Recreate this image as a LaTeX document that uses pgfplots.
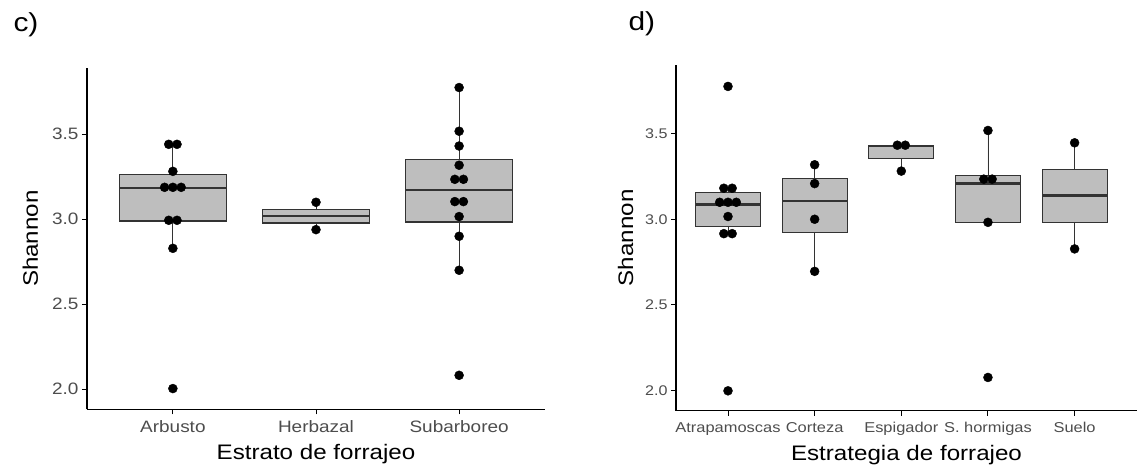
\documentclass[border=0pt]{standalone}
\usepackage{fontspec}
\setmainfont{Liberation Sans}[FakeStretch=1.15]
\usepackage{pgfplots}
\pgfplotsset{compat=1.18}
\usepgfplotslibrary{statistics}

\definecolor{ticktxt}{HTML}{4D4D4D}
\definecolor{boxedge}{HTML}{333333}
\definecolor{boxfill}{HTML}{BEBEBE}

\pgfplotsset{
  panel/.style={
    scale only axis,
    axis lines=left,
    axis line style={-, black, line width=1.2pt},
    tick align=outside,
    major tick length=5pt,
    tick style={black, line width=1pt},
    minor tick num=0,
    clip=false,
    ytick={2,2.5,3,3.5},
    yticklabels={2.0,2.5,3.0,3.5},
    yticklabel style={text=ticktxt},
    xticklabel style={text=ticktxt, yshift=-3pt},
    xtick pos=bottom, ytick pos=left,
    every axis y label/.style={at={(axis description cs:0,0.5)}, rotate=90, anchor=base},
    every axis x label/.style={at={(axis description cs:0.5,0)}, anchor=base, yshift=-50pt},
    label style={font=\fontsize{21}{23}\selectfont},
    boxplot/every median/.style={line width=2.3pt, draw=boxedge},
    boxplot/every whisker/.style={line width=0.8pt, draw=boxedge},
  },
  bx/.style={boxplot prepared={#1, draw direction=y, box extend=0.75, whisker extend=0},
    draw=boxedge, fill=boxfill, line width=1.1pt},
  dots/.style={only marks, mark=*, mark size=4.5pt, black},
}

\begin{document}
\begin{tikzpicture}
\useasboundingbox (0pt,0pt) rectangle (1138pt,468pt);

\node[anchor=base west] at (10pt,436pt) {\fontsize{26}{28}\selectfont c)};
\node[anchor=base west] at (625pt,437pt) {\fontsize{26}{28}\selectfont d)};

% c) Estrato de forrajeo
\begin{axis}[panel,
  at={(87pt,58.7pt)}, anchor=south west,
  width=458pt, height=341.3pt,
  xmin=0.4, xmax=3.6, ymin=1.882, ymax=3.890,
  xtick={1,2,3},
  xticklabels={Arbusto,Herbazal,Subarboreo},
  tick label style={font=\fontsize{16.5}{18}\selectfont},
  ylabel={Shannon}, xlabel={Estrato de forrajeo},
  ylabel style={yshift=49pt},
]
\addplot[bx={draw position=1, lower whisker=2.829, lower quartile=2.990, median=3.182, upper quartile=3.265, upper whisker=3.441}] coordinates {};
\addplot[bx={draw position=2, lower whisker=2.939, lower quartile=2.978, median=3.020, upper quartile=3.059, upper whisker=3.100}] coordinates {};
\addplot[bx={draw position=3, lower whisker=2.700, lower quartile=2.984, median=3.173, upper quartile=3.349, upper whisker=3.775}] coordinates {};
\addplot[dots] coordinates {
  (0.971,3.441) (1.029,3.441) (1,3.282)
  (0.942,3.188) (1,3.188) (1.058,3.188)
  (0.971,2.994) (1.029,2.994) (1,2.829) (1,2.004)
  (2,3.100) (2,2.939)
  (3,3.775) (3,3.518) (3,3.431) (3,3.318)
  (2.970,3.235) (3.030,3.235) (2.970,3.104) (3.030,3.104)
  (3,3.016) (3,2.900) (3,2.700) (3,2.082)
};
\end{axis}

% d) Estrategia de forrajeo
\begin{axis}[panel,
  at={(676pt,57.3pt)}, anchor=south west,
  width=461pt, height=345.7pt,
  xmin=0.4, xmax=5.72, ymin=1.883, ymax=3.900,
  xtick={1,2,3,4,5},
  xticklabels={Atrapamoscas,Corteza,Espigador,S. hormigas,Suelo},
  xticklabel style={font=\fontsize{14.3}{16}\selectfont},
  yticklabel style={font=\fontsize{14}{16}\selectfont},
  ylabel={Shannon}, xlabel={Estrategia de forrajeo},
  ylabel style={yshift=43pt},
]
\addplot[bx={draw position=1, lower whisker=2.916, lower quartile=2.957, median=3.086, upper quartile=3.156, upper whisker=3.181}] coordinates {};
\addplot[bx={draw position=2, lower whisker=2.696, lower quartile=2.924, median=3.105, upper quartile=3.238, upper whisker=3.318}] coordinates {};
\addplot[bx={draw position=3, lower whisker=3.281, lower quartile=3.357, median=3.428, upper quartile=3.432, upper whisker=3.432}] coordinates {};
\addplot[bx={draw position=4, lower whisker=2.982, lower quartile=2.982, median=3.208, upper quartile=3.257, upper whisker=3.518}] coordinates {};
\addplot[bx={draw position=5, lower whisker=2.827, lower quartile=2.981, median=3.138, upper quartile=3.292, upper whisker=3.446}] coordinates {};
\addplot[dots] coordinates {
  (1,3.775) (0.952,3.181) (1.048,3.181)
  (0.904,3.099) (1,3.099) (1.096,3.099)
  (1,3.016) (0.952,2.916) (1.048,2.916) (1,1.999)
  (2,3.318) (2,3.208) (2,3.0) (2,2.696)
  (2.954,3.432) (3.046,3.432) (3,3.281)
  (4,3.518) (3.952,3.234) (4.048,3.234) (4,2.982) (4,2.077)
  (5,3.446) (5,2.827)
};
\end{axis}
\end{tikzpicture}
\end{document}
